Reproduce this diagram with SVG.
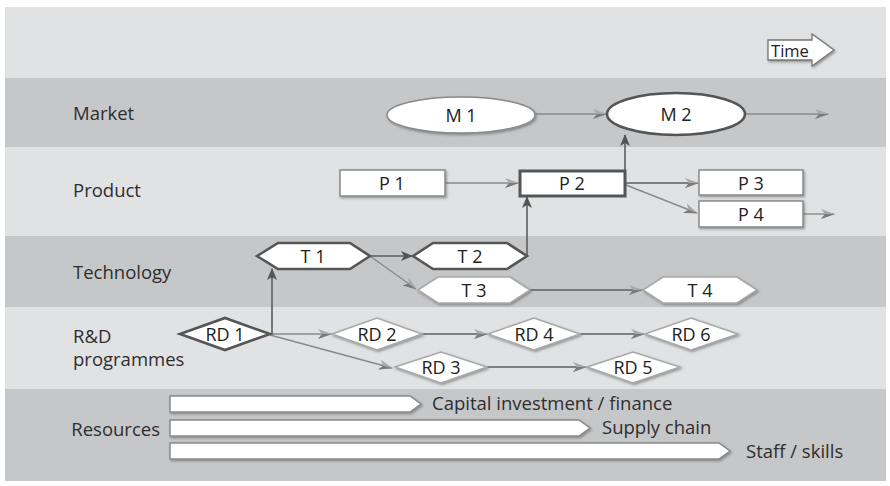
<svg xmlns="http://www.w3.org/2000/svg" width="890" height="486" viewBox="0 0 890 486">
<defs>
<style>
.lt{fill:#e1e2e3}
.dk{fill:#c6c7c9}
.lbl{font-family:"Open Sans","Liberation Sans",sans-serif;font-size:18.5px;fill:#2e2e2e}
.nt{font-family:"Open Sans","Liberation Sans",sans-serif;font-size:18px;fill:#222;text-anchor:middle;dominant-baseline:central}
.n{fill:#fff}
.thin{stroke:#8a8a8a;stroke-width:1.5}
.thick{stroke:#555;stroke-width:2.6}
.pale{stroke:#a8a8a8;stroke-width:1.5}
.cl{fill:none;stroke:#8a8a8a;stroke-width:1.4}
.cd{fill:none;stroke:#5e5e5e;stroke-width:1.6}
</style>
<filter id="sh" x="-10%" y="-20%" width="130%" height="160%">
<feDropShadow dx="1.2" dy="1.5" stdDeviation="0.8" flood-color="#555" flood-opacity="0.55"/>
</filter>
<marker id="al" viewBox="0 0 14 10" refX="13" refY="5" markerWidth="14" markerHeight="10" orient="auto" markerUnits="userSpaceOnUse">
<path d="M0,0 L14,5 L0,10 L4,5 z" fill="#a9a9a9"/>
<path d="M14,5 L0,10 L4,5 z" fill="#7a7a7a"/>
</marker>
<marker id="ad" viewBox="0 0 12 10" refX="11" refY="5" markerWidth="12" markerHeight="10" orient="auto" markerUnits="userSpaceOnUse">
<path d="M0,0 L12,5 L0,10 L3,5 z" fill="#555"/>
</marker>
</defs>

<g id="bands">
<rect class="lt" x="5" y="7" width="881" height="71"/>
<rect class="dk" x="5" y="78" width="881" height="69"/>
<rect class="lt" x="5" y="147" width="881" height="89"/>
<rect class="dk" x="5" y="236" width="881" height="71"/>
<rect class="lt" x="5" y="307" width="881" height="82"/>
<rect class="dk" x="5" y="389" width="881" height="92"/>
</g>

<g id="labels">
<text class="lbl" x="73" y="120">Market</text>
<text class="lbl" x="73" y="197">Product</text>
<text class="lbl" x="73" y="279">Technology</text>
<text class="lbl" x="73" y="343">R&amp;D</text>
<text class="lbl" x="73" y="366">programmes</text>
<text class="lbl" x="160" y="436" text-anchor="end">Resources</text>
</g>

<g id="time">
<path d="M768,40 L812,40 L812,34 L834,50 L812,66 L812,60 L768,60 Z" fill="#fff" stroke="#777" stroke-width="1.3" filter="url(#sh)"/>
<text x="790" y="50" class="nt" style="font-size:16.5px">Time</text>
</g>

<g id="connectors">
<line class="cl" x1="535" y1="114" x2="606" y2="114" marker-end="url(#al)"/>
<line class="cl" x1="745" y1="114" x2="828" y2="114" marker-end="url(#al)"/>
<line class="cd" x1="625" y1="170" x2="625" y2="135" marker-end="url(#ad)"/>
<line class="cl" x1="445" y1="183" x2="518" y2="183" marker-end="url(#al)"/>
<line class="cd" x1="626" y1="183" x2="698" y2="183" marker-end="url(#al)"/>
<line class="cl" x1="626" y1="185" x2="697" y2="213" marker-end="url(#al)"/>
<line class="cl" x1="803" y1="214" x2="834" y2="214" marker-end="url(#al)"/>
<line class="cd" x1="370" y1="256" x2="412" y2="256" marker-end="url(#ad)"/>
<polyline class="cd" points="527,256 527,197" marker-end="url(#ad)"/>
<line class="cl" x1="370" y1="256" x2="416" y2="289" marker-end="url(#al)"/>
<line class="cd" x1="530" y1="290" x2="642" y2="290" marker-end="url(#al)"/>
<line class="cd" x1="272" y1="334" x2="272" y2="269" marker-end="url(#ad)"/>
<line class="cl" x1="270" y1="334" x2="331" y2="334" marker-end="url(#al)"/>
<line class="cl" x1="270" y1="335" x2="392" y2="368" marker-end="url(#al)"/>
<line class="cd" x1="422" y1="334" x2="487" y2="334" marker-end="url(#al)"/>
<line class="cd" x1="580" y1="334" x2="644" y2="334" marker-end="url(#al)"/>
<line class="cd" x1="487" y1="367" x2="586" y2="367" marker-end="url(#al)"/>
</g>

<g id="M1"><ellipse class="n thin" cx="461" cy="115" rx="74" ry="18" filter="url(#sh)"/><text class="nt" x="461" y="115">M 1</text></g>
<g id="M2"><ellipse class="n thick" cx="676" cy="114" rx="69" ry="21"/><text class="nt" x="676" y="114">M 2</text></g>

<g id="P1"><rect class="n thin" x="340" y="170" width="105" height="26" filter="url(#sh)"/><text class="nt" x="392" y="183">P 1</text></g>
<g id="P2"><rect class="n" x="520" y="171" width="105" height="25" stroke="#555" stroke-width="3"/><text class="nt" x="572" y="183">P 2</text></g>
<g id="P3"><rect class="n thin" x="699" y="170" width="104" height="25" filter="url(#sh)"/><text class="nt" x="751" y="182.5">P 3</text></g>
<g id="P4"><rect class="n thin" x="699" y="201" width="104" height="26" filter="url(#sh)"/><text class="nt" x="751" y="214">P 4</text></g>

<g id="T1"><polygon class="n thick" points="257,256 278,243 350,243 370,256 350,269 278,269"/><text class="nt" x="313" y="256">T 1</text></g>
<g id="T2"><polygon class="n thick" points="413,256 433,243 507,243 527,256 507,269 433,269"/><text class="nt" x="470" y="256">T 2</text></g>
<g id="T3"><polygon class="n pale" points="418,290 438,277 510,277 530,290 510,303 438,303" filter="url(#sh)"/><text class="nt" x="474" y="290">T 3</text></g>
<g id="T4"><polygon class="n pale" points="643,290 663,277 737,277 757,290 737,303 663,303" filter="url(#sh)"/><text class="nt" x="700" y="290">T 4</text></g>

<g id="RD1"><polygon class="n thick" points="180,334 225,318 270,334 225,350"/><text class="nt" x="225" y="334">RD 1</text></g>
<g id="RD2"><polygon class="n pale" points="332,334 377,318 422,334 377,350" filter="url(#sh)"/><text class="nt" x="377" y="334">RD 2</text></g>
<g id="RD4"><polygon class="n pale" points="488,334 534,318 580,334 534,350" filter="url(#sh)"/><text class="nt" x="534" y="334">RD 4</text></g>
<g id="RD6"><polygon class="n pale" points="645,334 691,318 738,334 691,350" filter="url(#sh)"/><text class="nt" x="691" y="334">RD 6</text></g>
<g id="RD3"><polygon class="n pale" points="395,367 441,352 487,367 441,383" filter="url(#sh)"/><text class="nt" x="441" y="367">RD 3</text></g>
<g id="RD5"><polygon class="n pale" points="587,367 633,352 680,367 633,383" filter="url(#sh)"/><text class="nt" x="633" y="367">RD 5</text></g>

<g id="resources">
<polygon class="n thin" points="170,396 410,396 421,404 410,412 170,412" filter="url(#sh)"/>
<text class="lbl" x="432" y="410">Capital investment / finance</text>
<polygon class="n thin" points="170,420 579,420 590,428 579,436 170,436" filter="url(#sh)"/>
<text class="lbl" x="602" y="434">Supply chain</text>
<polygon class="n thin" points="170,443 719,443 730,451 719,459 170,459" filter="url(#sh)"/>
<text class="lbl" x="746" y="458">Staff / skills</text>
</g>
</svg>
